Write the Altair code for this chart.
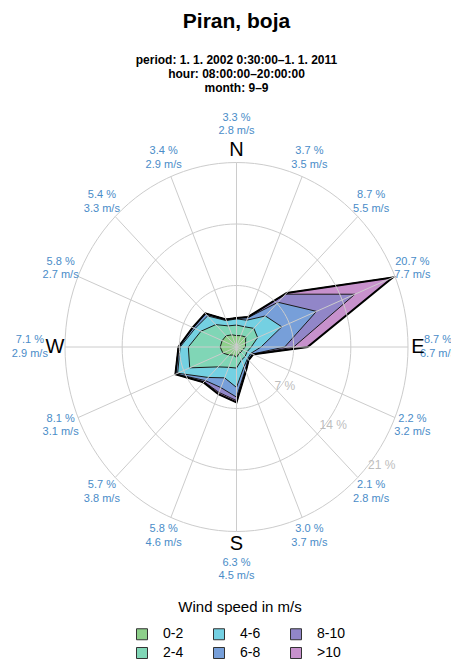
import altair as alt
import pandas as pd

# ---------------- data ----------------
directions = ["N", "NNE", "NE", "ENE", "E", "ESE", "SE", "SSE",
              "S", "SSW", "SW", "WSW", "W", "WNW", "NW", "NNW"]
angles = [0, 22.5, 45, 67.5, 90, 112.5, 135, 157.5,
          180, 202.5, 225, 247.5, 270, 292.5, 315, 337.5]
freq_total = [3.3, 3.7, 8.7, 20.7, 8.7, 2.2, 2.1, 3.0,
              6.3, 5.8, 5.7, 8.1, 7.1, 5.8, 5.4, 3.4]
mean_speed = [2.8, 3.5, 5.5, 7.7, 6.7, 3.2, 2.8, 3.7,
              4.5, 4.6, 3.8, 3.1, 2.9, 2.7, 3.3, 2.9]

speed_classes = ["0-2", "2-4", "4-6", "6-8", "8-10", ">10"]
class_colors = ["#8dcf8a", "#80d6b6", "#74d0e2", "#779fd9", "#9186c8", "#c791cc"]

# share (%) of each speed class per direction
share_0_2 = [1.3, 1.4, 1.6, 1.2, 1.1, 0.8, 0.8, 0.8, 1.2, 1.0, 1.3, 1.8, 2.0, 1.9, 1.8, 1.5]
share_2_4 = [1.2, 1.1, 1.4, 1.6, 0.7, 0.6, 0.7, 0.8, 1.2, 1.5, 1.9, 4.4, 3.9, 2.8, 1.8, 1.1]
share_4_6 = [0.7, 0.8, 2.0, 3.2, 1.2, 0.5, 0.4, 0.8, 2.2, 1.3, 1.7, 1.6, 1.0, 0.8, 1.4, 0.65]
share_6_8 = [0.1, 0.3, 2.2, 4.6, 2.9, 0.2, 0.15, 0.4, 1.1, 1.2, 0.5, 0.25, 0.2, 0.25, 0.35, 0.15]
share_8_10 = [0.0, 0.1, 1.3, 5.1, 1.1, 0.1, 0.05, 0.15, 0.4, 0.6, 0.2, 0.05, 0.0, 0.05, 0.05, 0.0]
share_gt_10 = [0.0, 0.0, 0.2, 5.0, 1.7, 0.0, 0.0, 0.05, 0.2, 0.2, 0.1, 0.0, 0.0, 0.0, 0.0, 0.0]
shares = [share_0_2, share_2_4, share_4_6, share_6_8, share_8_10, share_gt_10]

ring_values = [7, 14, 21]
ring_label_angle = 127
compass_letters = ["N", "E", "S", "W"]
compass_angles = [0, 90, 180, 270]

title_text = "Piran, boja"
subtitle_lines = ["period: 1. 1. 2002 0:30:00–1. 1. 2011",
                  "hour: 08:00:00–20:00:00",
                  "month: 9–9"]
legend_title = "Wind speed in m/s"

# ---------------- layout ----------------
W, H = 443, 495
PAD_TOP, PAD_BOTTOM = 92, 65
CX, CY = 228.5, 247.0          # rose centre inside the plot area (px)
RX, RY = 171.5, 184.5          # pixel radius of the outer (21 %) ring
RMAX = 21.0
kx, ky = RX / RMAX, RY / RMAX
xs = alt.Scale(domain=[-CX / kx, (W - CX) / kx], nice=False, zero=False)
ys = alt.Scale(domain=[-(H - CY) / ky, CY / ky], nice=False, zero=False)
LABEL_X_MAX = 201.5 / kx       # keep the east label (mostly) inside the page
FONT = "Liberation Sans"
LABEL_BLUE = "#4a8cc8"
LINE_GAP = 6.75

# ---------------- tables ----------------
rows = []
for k, cls in enumerate(speed_classes):
    for i, d in enumerate(directions):
        cum = sum(shares[j][i] for j in range(k + 1))
        rows.append(dict(k=k, cls=cls, idx=i, angle=angles[i], r=cum))
poly_df = pd.DataFrame(rows)

dir_df = pd.DataFrame(dict(
    dir=directions, angle=angles, freq=freq_total, speed=mean_speed,
    ftxt=[f"{f:.1f} %" for f in freq_total],
    stxt=[f"{s:.1f} m/s" for s in mean_speed],
    rl=[RMAX * (1.205 if i % 4 == 0 else 1.11) for i in range(len(directions))],
))

ring_rows = []
for v in ring_values:
    for n, deg in enumerate(range(0, 361, 3)):
        ring_rows.append(dict(ring=v, idx=n, deg=deg))
ring_df = pd.DataFrame(ring_rows)

ring_lab_df = pd.DataFrame(dict(v=ring_values,
                                text=[f"{v} %" for v in ring_values],
                                angle=[ring_label_angle] * len(ring_values)))
compass_df = pd.DataFrame(dict(letter=compass_letters, angle=compass_angles))

X = lambda f: alt.X(f, type="quantitative", scale=xs, axis=None)
Y = lambda f: alt.Y(f, type="quantitative", scale=ys, axis=None)

legend = alt.Legend(
    orient="none", legendX=127, legendY=500, columns=3,
    title=legend_title, titleFont=FONT, titleFontSize=15, titleFontWeight="normal",
    titleColor="black", titleAnchor="middle", titlePadding=12,
    labelFont=FONT, labelFontSize=14, labelColor="black", labelOffset=14,
    symbolType="square", symbolSize=121, symbolStrokeColor="#333333",
    symbolStrokeWidth=1, symbolOpacity=1, columnPadding=27, rowPadding=3,
)
cscale = alt.Scale(domain=speed_classes, range=class_colors)

polar = dict(x="datum.r * sin(datum.angle * PI / 180)",
             y="datum.r * cos(datum.angle * PI / 180)")

layers = []
for k in range(len(speed_classes) - 1, -1, -1):
    layers.append(
        alt.Chart(poly_df)
        .transform_filter(alt.datum.k == k)
        .transform_calculate(**polar)
        .mark_line(interpolate="linear-closed", stroke="#1a1a1a",
                   strokeWidth=1, fillOpacity=1)
        .encode(x=X("x"), y=Y("y"),
                fill=alt.Fill("cls:N", scale=cscale, legend=legend),
                order=alt.Order("idx:Q"))
    )

# thick outer outline
layers.append(
    alt.Chart(poly_df)
    .transform_filter(alt.datum.k == len(speed_classes) - 1)
    .transform_calculate(**polar)
    .mark_line(interpolate="linear-closed", stroke="#000000", strokeWidth=2)
    .encode(x=X("x"), y=Y("y"), order=alt.Order("idx:Q"))
)

# rings
layers.append(
    alt.Chart(ring_df)
    .transform_calculate(
        x="datum.ring * sin(datum.deg * PI / 180)",
        y="datum.ring * cos(datum.deg * PI / 180)")
    .mark_line(stroke="#cccccc", strokeWidth=1)
    .encode(x=X("x"), y=Y("y"), detail="ring:N", order=alt.Order("idx:Q"))
)

# spokes
layers.append(
    alt.Chart(dir_df)
    .transform_calculate(
        x0="0", y0="0",
        x2=f"{RMAX} * sin(datum.angle * PI / 180)",
        y2=f"{RMAX} * cos(datum.angle * PI / 180)")
    .mark_rule(color="#cccccc", strokeWidth=1)
    .encode(x=X("x0"), y=Y("y0"), x2="x2:Q", y2="y2:Q")
)

# ring labels
layers.append(
    alt.Chart(ring_lab_df)
    .transform_calculate(
        x="datum.v * 1.06 * sin(datum.angle * PI / 180)",
        y="datum.v * 1.06 * cos(datum.angle * PI / 180)")
    .mark_text(font=FONT, fontSize=12, color="#bdbdbd", align="center", baseline="middle")
    .encode(x=X("x"), y=Y("y"), text="text:N")
)

# direction labels (two lines: frequency, mean speed)
lab_pos = dict(x=f"min({LABEL_X_MAX}, datum.rl * sin(datum.angle * PI / 180))",
               y="datum.rl * cos(datum.angle * PI / 180)")
for field, dy in (("ftxt", -LINE_GAP), ("stxt", LINE_GAP)):
    layers.append(
        alt.Chart(dir_df)
        .transform_calculate(**lab_pos)
        .mark_text(font=FONT, fontSize=11, color=LABEL_BLUE, align="center",
                   baseline="middle", dy=dy)
        .encode(x=X("x"), y=Y("y"), text=f"{field}:N")
    )

# compass letters
layers.append(
    alt.Chart(compass_df)
    .transform_calculate(
        x=f"{RMAX * 1.058} * sin(datum.angle * PI / 180)",
        y=f"{RMAX * 1.07} * cos(datum.angle * PI / 180)")
    .mark_text(font=FONT, fontSize=20, color="black", align="center", baseline="middle")
    .encode(x=X("x"), y=Y("y"), text="letter:N")
)

chart = (
    alt.layer(*layers)
    .properties(
        width=W, height=H,
        autosize=alt.AutoSizeParams(type="none"),
        padding={"left": 0, "top": PAD_TOP, "right": 0, "bottom": PAD_BOTTOM},
        title=alt.TitleParams(
            text=title_text, subtitle=subtitle_lines,
            font=FONT, fontSize=21, fontWeight="bold", color="black",
            subtitleFont=FONT, subtitleFontSize=12, subtitleFontWeight="bold",
            subtitleColor="black", subtitleLineHeight=14, subtitlePadding=23,
            anchor="middle", dx=7, offset=6.5),
    )
    .configure_view(stroke=None)
)

chart.save("out.html", embed_options={"renderer": "svg", "actions": False})
